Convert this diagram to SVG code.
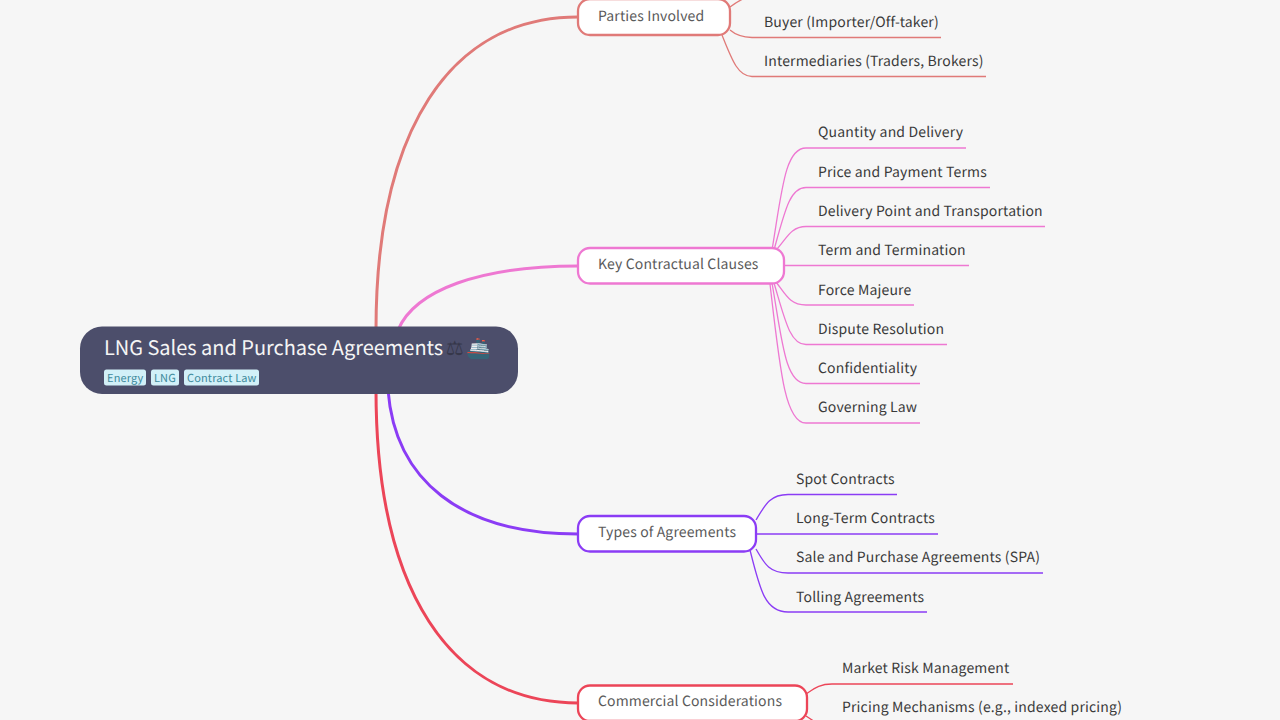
<svg xmlns="http://www.w3.org/2000/svg" width="1280" height="720" viewBox="0 0 1280 720">
<style>
text{font-family:"Noto Sans CJK SC","Noto Sans",sans-serif;text-rendering:geometricPrecision}
.l{font-size:14px;fill:#3a3a3a;letter-spacing:.16px}
.m{font-size:14px;fill:#5a5a5a;letter-spacing:.14px}
.n{fill:#fff;stroke-width:2.300}
.c path{fill:none}
.a{stroke:#e07a78}.b{stroke:#ee78d2}.d{stroke:#8b3cf5}.e{stroke:#ec4558}
.t{font-size:11px;fill:#3d8a9c;letter-spacing:.15px}
.g{fill:#d2f0f8}
</style>
<rect width="1280" height="720" fill="#f6f6f6"/>
<g id="connectors" class="c">
<g stroke-width="3">
<path class="a" d="M376 330C376 130 450 17 578 17"/>
<path class="b" d="M398 330C415 290 480 266 578 266"/>
<path class="d" d="M388 390C395 480 460 534 578 534"/>
<path class="e" d="M376 390C376 590 450 703 578 703"/>
</g>
<g stroke-width="1.3">
<path class="a" d="M730 7Q738 1 745 -2H770"/>
<path class="a" d="M730 30Q738 37 752 37.500H941"/>
<path class="a" d="M722 35C732 60 738 76.500 752 76.500H986"/>
<path class="b" d="M772 250C782 190 785 148 806 148H966"/>
<path class="b" d="M774 250C785 210 790 187.500 806 187.500H990"/>
<path class="b" d="M776 250C786 240 790 226.500 806 226.500H1045"/>
<path class="b" d="M784 265.500H969"/>
<path class="b" d="M776 282C786 295 790 305 806 305H914"/>
<path class="b" d="M774 283C785 320 790 344.500 806 344.500H947"/>
<path class="b" d="M772 283C782 340 785 383.500 806 383.500H920"/>
<path class="b" d="M770 284C780 370 785 423 806 423H920"/>
<path class="d" d="M756 520C765 505 770 494.500 788 494.500H897"/>
<path class="d" d="M756 534H938"/>
<path class="d" d="M756 549C765 565 770 573 788 573H1043"/>
<path class="d" d="M750 550C760 590 765 612 788 612H927"/>
<path class="e" d="M806 694C815 688 820 684 832 684H1013"/>
<path class="e" d="M806 716C812 720 815 722 820 725"/>
</g>
</g>
<g id="root">
<rect x="80" y="326.500" width="438" height="67.500" rx="22" fill="#4c4e6b"/>
<text x="104" y="354.500" font-size="20" fill="#f5f5f5" letter-spacing="-.03">LNG Sales and Purchase Agreements <tspan dx="-2" fill="#36374a">⚖</tspan><tspan dx="3">🚢</tspan></text>
<rect class="g" x="104" y="369.500" width="42" height="16" rx="2.500"/>
<text class="t" x="107" y="382">Energy</text>
<rect class="g" x="151" y="369.500" width="28" height="16" rx="2.500"/>
<text class="t" x="154" y="382">LNG</text>
<rect class="g" x="184" y="369.500" width="75" height="16" rx="2.500"/>
<text class="t" x="187" y="382">Contract Law</text>
</g>
<g id="n1"><rect class="n a" x="578" y="-1" width="152" height="36" rx="12"/><text class="m" x="598" y="21">Parties Involved</text></g>
<g id="n2"><rect class="n b" x="578" y="248" width="206" height="35.500" rx="12"/><text class="m" x="598" y="269">Key Contractual Clauses</text></g>
<g id="n3"><rect class="n d" x="578" y="516" width="178" height="35.500" rx="12"/><text class="m" x="598" y="537">Types of Agreements</text></g>
<g id="n4"><rect class="n e" x="578" y="685.500" width="229" height="35.500" rx="12"/><text class="m" x="598" y="706">Commercial Considerations</text></g>
<g id="l1"><text class="l" x="764" y="26.500">Buyer (Importer/Off-taker)</text></g>
<g id="l2"><text class="l" x="764" y="65.500">Intermediaries (Traders, Brokers)</text></g>
<g id="l3"><text class="l" x="818" y="137">Quantity and Delivery</text></g>
<g id="l4"><text class="l" x="818" y="176.500">Price and Payment Terms</text></g>
<g id="l5"><text class="l" x="818" y="215.500">Delivery Point and Transportation</text></g>
<g id="l6"><text class="l" x="818" y="255">Term and Termination</text></g>
<g id="l7"><text class="l" x="818" y="294.500">Force Majeure</text></g>
<g id="l8"><text class="l" x="818" y="333.500">Dispute Resolution</text></g>
<g id="l9"><text class="l" x="818" y="372.500">Confidentiality</text></g>
<g id="l10"><text class="l" x="818" y="412">Governing Law</text></g>
<g id="l11"><text class="l" x="796" y="483.500">Spot Contracts</text></g>
<g id="l12"><text class="l" x="796" y="523">Long-Term Contracts</text></g>
<g id="l13"><text class="l" x="796" y="562">Sale and Purchase Agreements (SPA)</text></g>
<g id="l14"><text class="l" x="796" y="601.500">Tolling Agreements</text></g>
<g id="l15"><text class="l" x="842" y="673">Market Risk Management</text></g>
<g id="l16"><text class="l" x="842" y="712">Pricing Mechanisms (e.g., indexed pricing)</text></g>
</svg>
